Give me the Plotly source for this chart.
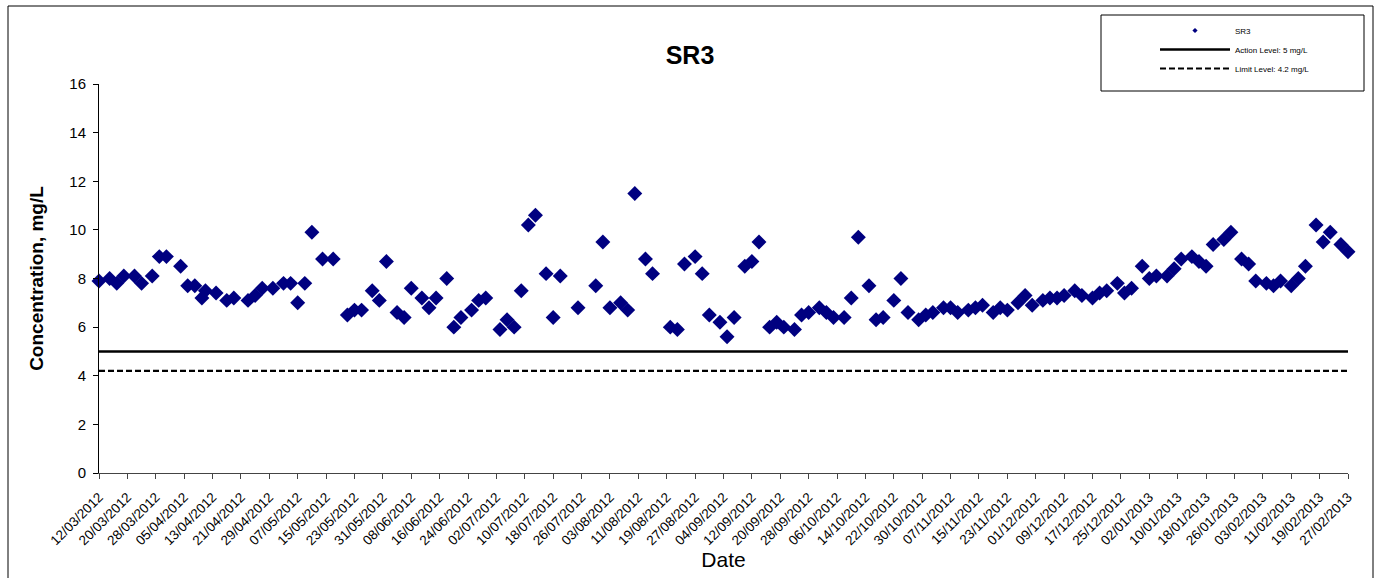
import plotly.graph_objects as go

dates = [
    "2012-03-12", "2012-03-15", "2012-03-17", "2012-03-19", "2012-03-22", "2012-03-24",
    "2012-03-27", "2012-03-29", "2012-03-31", "2012-04-04", "2012-04-06", "2012-04-08",
    "2012-04-10", "2012-04-11", "2012-04-14", "2012-04-17", "2012-04-19", "2012-04-23",
    "2012-04-25", "2012-04-27", "2012-04-30", "2012-05-03", "2012-05-05", "2012-05-07",
    "2012-05-09", "2012-05-11", "2012-05-14", "2012-05-17", "2012-05-21", "2012-05-23",
    "2012-05-25", "2012-05-28", "2012-05-30", "2012-06-01", "2012-06-04", "2012-06-06",
    "2012-06-08", "2012-06-11", "2012-06-13", "2012-06-15", "2012-06-18", "2012-06-20",
    "2012-06-22", "2012-06-25", "2012-06-27", "2012-06-29", "2012-07-03", "2012-07-05",
    "2012-07-07", "2012-07-09", "2012-07-11", "2012-07-13", "2012-07-16", "2012-07-18",
    "2012-07-20", "2012-07-25", "2012-07-30", "2012-08-01", "2012-08-03", "2012-08-06",
    "2012-08-08", "2012-08-10", "2012-08-13", "2012-08-15", "2012-08-20", "2012-08-22",
    "2012-08-24", "2012-08-27", "2012-08-29", "2012-08-31", "2012-09-03", "2012-09-05",
    "2012-09-07", "2012-09-10", "2012-09-12", "2012-09-14", "2012-09-17", "2012-09-19",
    "2012-09-21", "2012-09-24", "2012-09-26", "2012-09-28", "2012-10-01", "2012-10-03",
    "2012-10-05", "2012-10-08", "2012-10-10", "2012-10-12", "2012-10-15", "2012-10-17",
    "2012-10-19", "2012-10-22", "2012-10-24", "2012-10-26", "2012-10-29", "2012-10-31",
    "2012-11-02", "2012-11-05", "2012-11-07", "2012-11-09", "2012-11-12", "2012-11-14",
    "2012-11-16", "2012-11-19", "2012-11-21", "2012-11-23", "2012-11-26", "2012-11-28",
    "2012-11-30", "2012-12-03", "2012-12-05", "2012-12-07", "2012-12-09", "2012-12-12",
    "2012-12-14", "2012-12-17", "2012-12-19", "2012-12-21", "2012-12-24", "2012-12-26",
    "2012-12-28", "2012-12-31", "2013-01-02", "2013-01-04", "2013-01-07", "2013-01-09",
    "2013-01-11", "2013-01-14", "2013-01-16", "2013-01-18", "2013-01-20", "2013-01-23",
    "2013-01-25", "2013-01-28", "2013-01-30", "2013-02-01", "2013-02-04", "2013-02-06",
    "2013-02-08", "2013-02-11", "2013-02-13", "2013-02-15", "2013-02-18", "2013-02-20",
    "2013-02-22", "2013-02-25", "2013-02-27",
]

sr3 = [
    7.9, 8.0, 7.8, 8.1, 8.1, 7.8,
    8.1, 8.9, 8.9, 8.5, 7.7, 7.7,
    7.2, 7.5, 7.4, 7.1, 7.2, 7.1,
    7.3, 7.6, 7.6, 7.8, 7.8, 7.0,
    7.8, 9.9, 8.8, 8.8, 6.5, 6.7,
    6.7, 7.5, 7.1, 8.7, 6.6, 6.4,
    7.6, 7.2, 6.8, 7.2, 8.0, 6.0,
    6.4, 6.7, 7.1, 7.2, 5.9, 6.3,
    6.0, 7.5, 10.2, 10.6, 8.2, 6.4,
    8.1, 6.8, 7.7, 9.5, 6.8, 7.0,
    6.7, 11.5, 8.8, 8.2, 6.0, 5.9,
    8.6, 8.9, 8.2, 6.5, 6.2, 5.6,
    6.4, 8.5, 8.7, 9.5, 6.0, 6.2,
    6.0, 5.9, 6.5, 6.6, 6.8, 6.6,
    6.4, 6.4, 7.2, 9.7, 7.7, 6.3,
    6.4, 7.1, 8.0, 6.6, 6.3, 6.5,
    6.6, 6.8, 6.8, 6.6, 6.7, 6.8,
    6.9, 6.6, 6.8, 6.7, 7.0, 7.3,
    6.9, 7.1, 7.2, 7.2, 7.3, 7.5,
    7.3, 7.2, 7.4, 7.5, 7.8, 7.4,
    7.6, 8.5, 8.0, 8.1, 8.1, 8.4,
    8.8, 8.9, 8.7, 8.5, 9.4, 9.6,
    9.9, 8.8, 8.6, 7.9, 7.8, 7.7,
    7.9, 7.7, 8.0, 8.5, 10.2, 9.5,
    9.9, 9.4, 9.1,
]

level_dates = ["2012-03-12", "2013-02-27"]
action_level = [5, 5]
limit_level = [4.2, 4.2]

y_ticks = [0, 2, 4, 6, 8, 10, 12, 14, 16]

FONT = "Liberation Sans, Arial, sans-serif"

# plot area in pixels
L, R, T, B = 99, 1348, 84, 473
W, H = 1380, 578


def px_x(p):
    return (p - L) / (R - L)


def px_y(p):
    return (B - p) / (B - T)


fig = go.Figure()
fig.add_trace(go.Scatter(
    x=dates, y=sr3, mode="markers", name="SR3", showlegend=False, cliponaxis=False,
    marker=dict(symbol="diamond", size=11.5, color="#000080", line=dict(width=0)),
))
# legend proxy (small dot, as in the original legend)
fig.add_trace(go.Scatter(
    x=[None], y=[None], mode="markers", name="SR3",
    marker=dict(symbol="diamond", size=4, color="#000080"),
))
fig.add_trace(go.Scatter(
    x=level_dates, y=action_level, mode="lines", name="Action Level: 5 mg/L",
    line=dict(color="black", width=2.6),
))
fig.add_trace(go.Scatter(
    x=level_dates, y=limit_level, mode="lines", name="Limit Level: 4.2 mg/L",
    line=dict(color="black", width=2.2, dash="6px,3px"),
))

fig.update_layout(
    width=W, height=H,
    margin=dict(l=L, r=W - R, t=T, b=H - B, pad=0),
    paper_bgcolor="white", plot_bgcolor="white",
    font=dict(family=FONT, color="black"),
    title=dict(text="<b>SR3</b>", x=0.5, xref="container", y=1 - 55 / H, yref="container",
               xanchor="center", yanchor="middle", font=dict(size=25, family=FONT)),
    showlegend=True,
    legend=dict(
        x=px_x(1155), y=px_y(16), xanchor="left", yanchor="top",
        bgcolor="rgba(0,0,0,0)", borderwidth=0,
        font=dict(size=8, family=FONT), itemwidth=70, itemsizing="trace",
        tracegroupgap=0,
    ),
    xaxis=dict(
        type="date",
        range=["2012-03-12", "2013-02-27"],
        tick0="2012-03-12", dtick=8 * 86400000,
        tickformat="%d/%m/%Y", tickangle=-45,
        ticks="outside", ticklen=5, tickcolor="#444", tickwidth=1,
        ticklabelstandoff=5,
        showline=True, linecolor="#444", linewidth=1,
        showgrid=False, zeroline=False,
        tickfont=dict(size=13.5, family=FONT),
        title=dict(text="Date", font=dict(size=21, family=FONT), standoff=0),
    ),
    yaxis=dict(
        range=[0, 16], tickvals=y_ticks,
        ticks="outside", ticklen=5, tickcolor="black", tickwidth=1,
        ticklabelstandoff=4,
        showline=True, linecolor="black", linewidth=1,
        showgrid=False, zeroline=False,
        tickfont=dict(size=15, family=FONT),
        title=dict(text="<b>Concentration, mg/L</b>", font=dict(size=19, family=FONT), standoff=20),
    ),
    shapes=[
        # outer chart border
        dict(type="rect", xref="paper", yref="paper",
             x0=px_x(8), x1=px_x(1373), y0=px_y(620), y1=px_y(6),
             line=dict(color="black", width=1), fillcolor="rgba(0,0,0,0)", layer="below"),
        # legend box
        dict(type="rect", xref="paper", yref="paper",
             x0=px_x(1101), x1=px_x(1364), y0=px_y(91), y1=px_y(15),
             line=dict(color="black", width=1), fillcolor="rgba(0,0,0,0)", layer="below"),
    ],
)

fig.write_html("out.html")
